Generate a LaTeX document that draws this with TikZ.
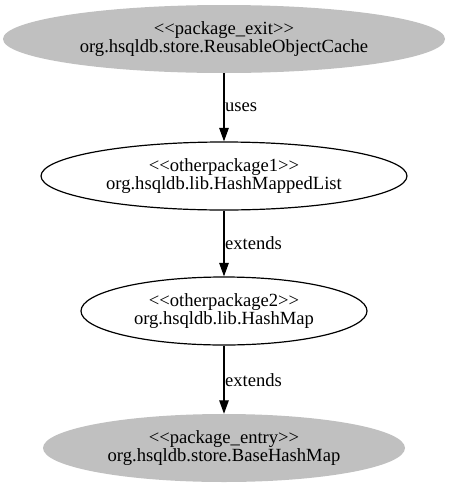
\documentclass[tikz,border=0pt]{standalone}
\usepackage{fontspec}
\setmainfont{Liberation Serif}
\usetikzlibrary{arrows.meta,shapes.geometric}
\definecolor{pkggray}{RGB}{192,192,192}
\newcommand{\lt}{<\kern0pt<\kern0pt}
\newcommand{\gt}{>\kern0pt>}
\newcommand{\gvfont}{\fontsize{18.6pt}{18.5pt}\selectfont}
\tikzset{
  cls/.style={ellipse, inner sep=0pt, align=center, minimum height=68pt, font=\gvfont},
  pkg/.style={cls, fill=pkggray},
  other/.style={cls, draw=black, line width=1.2pt, fill=white},
  conn/.style={-{Triangle[length=13.5pt,width=9.5pt]}, line width=1.2pt},
  lbl/.style={right, inner sep=0pt, font=\gvfont}
}
\begin{document}
\begin{tikzpicture}[x=1pt,y=-1pt]
\useasboundingbox (0,0) rectangle (448,488);
\node[pkg, minimum width=442pt] (a) at (224,39) {\lt package\_exit\gt\\org.hsqldb.store.ReusableObjectCache};
\node[other, minimum width=366pt] (b) at (224,176) {\lt otherpackage1\gt\\org.hsqldb.lib.HashMappedList};
\node[other, minimum width=286pt] (c) at (224,311) {\lt otherpackage2\gt\\org.hsqldb.lib.HashMap};
\node[pkg, minimum width=362pt] (d) at (224,448) {\lt package\_entry\gt\\org.hsqldb.store.BaseHashMap};
\draw[conn] (a.south) -- node[lbl, xshift=0.5pt] {uses} (b.north);
\draw[conn] (b.south) -- node[lbl, xshift=0.5pt] {extends} (c.north);
\draw[conn] (c.south) -- node[lbl, xshift=0.5pt] {extends} (d.north);
\end{tikzpicture}
\end{document}
